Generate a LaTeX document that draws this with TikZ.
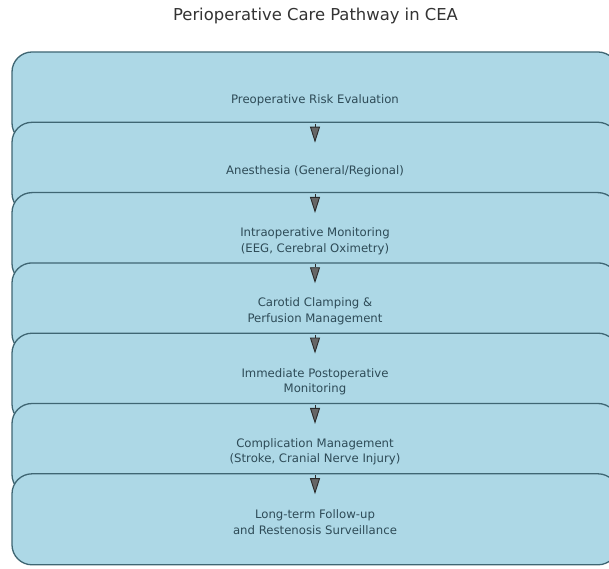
\documentclass[tikz,border=0pt]{standalone}
\usepackage{fontspec}
\setmainfont{DejaVu Sans}
\usetikzlibrary{arrows.meta}
\definecolor{boxfill}{HTML}{ADD8E6}
\definecolor{boxedge}{HTML}{3F6673}
\definecolor{txt}{HTML}{2E4B57}
\definecolor{ttl}{HTML}{333333}
\definecolor{arrfill}{HTML}{666666}
\definecolor{arredge}{HTML}{2A2A2A}
\tikzset{
  stagebox/.style={draw=boxedge, line width=1.3pt, fill=boxfill, rounded corners=20pt,
    minimum width=606pt, minimum height=91pt, inner sep=0pt},
  stagetext/.style={text=txt, font=\fontsize{11.7}{15.5}\selectfont, align=center},
  flowarrow/.style={draw=arredge, line width=0.9pt,
    -{Triangle[length=16pt,width=10pt,fill=arrfill]}}
}
\begin{document}
\begin{tikzpicture}[x=1pt,y=1pt]
\useasboundingbox (0,0) rectangle (609,568);
\clip (0,0) rectangle (609,568);
\fill[white] (0,0) rectangle (609,568);
\node[font=\fontsize{16.4}{20}\selectfont, text=ttl] (title) at (315.5,552) {Perioperative Care Pathway in CEA};
\node[stagebox] (b1) at (315,470.5) {};
\node[stagebox] (b2) at (315,400.2) {};
\node[stagebox] (b3) at (315,329.9) {};
\node[stagebox] (b4) at (315,259.6) {};
\node[stagebox] (b5) at (315,189.3) {};
\node[stagebox] (b6) at (315,119.0) {};
\node[stagebox] (b7) at (315,48.7) {};
\node[stagetext] (t1) at ([yshift=-3pt]b1.center) {Preoperative Risk Evaluation};
\node[stagetext] (t2) at ([yshift=-3pt]b2.center) {Anesthesia (General/Regional)};
\node[stagetext] (t3) at ([yshift=-3pt]b3.center) {Intraoperative Monitoring\\(EEG, Cerebral Oximetry)};
\node[stagetext] (t4) at ([yshift=-3pt]b4.center) {Carotid Clamping \&\\Perfusion Management};
\node[stagetext] (t5) at ([yshift=-3pt]b5.center) {Immediate Postoperative\\Monitoring};
\node[stagetext] (t6) at ([yshift=-3pt]b6.center) {Complication Management\\(Stroke, Cranial Nerve Injury)};
\node[stagetext] (t7) at ([yshift=-3pt]b7.center) {Long-term Follow-up\\and Restenosis Surveillance};
\foreach \n in {2,...,7}{
  \draw[flowarrow] ([yshift=-2pt]b\n.north) -- ([yshift=-21pt]b\n.north);
}
\end{tikzpicture}
\end{document}
